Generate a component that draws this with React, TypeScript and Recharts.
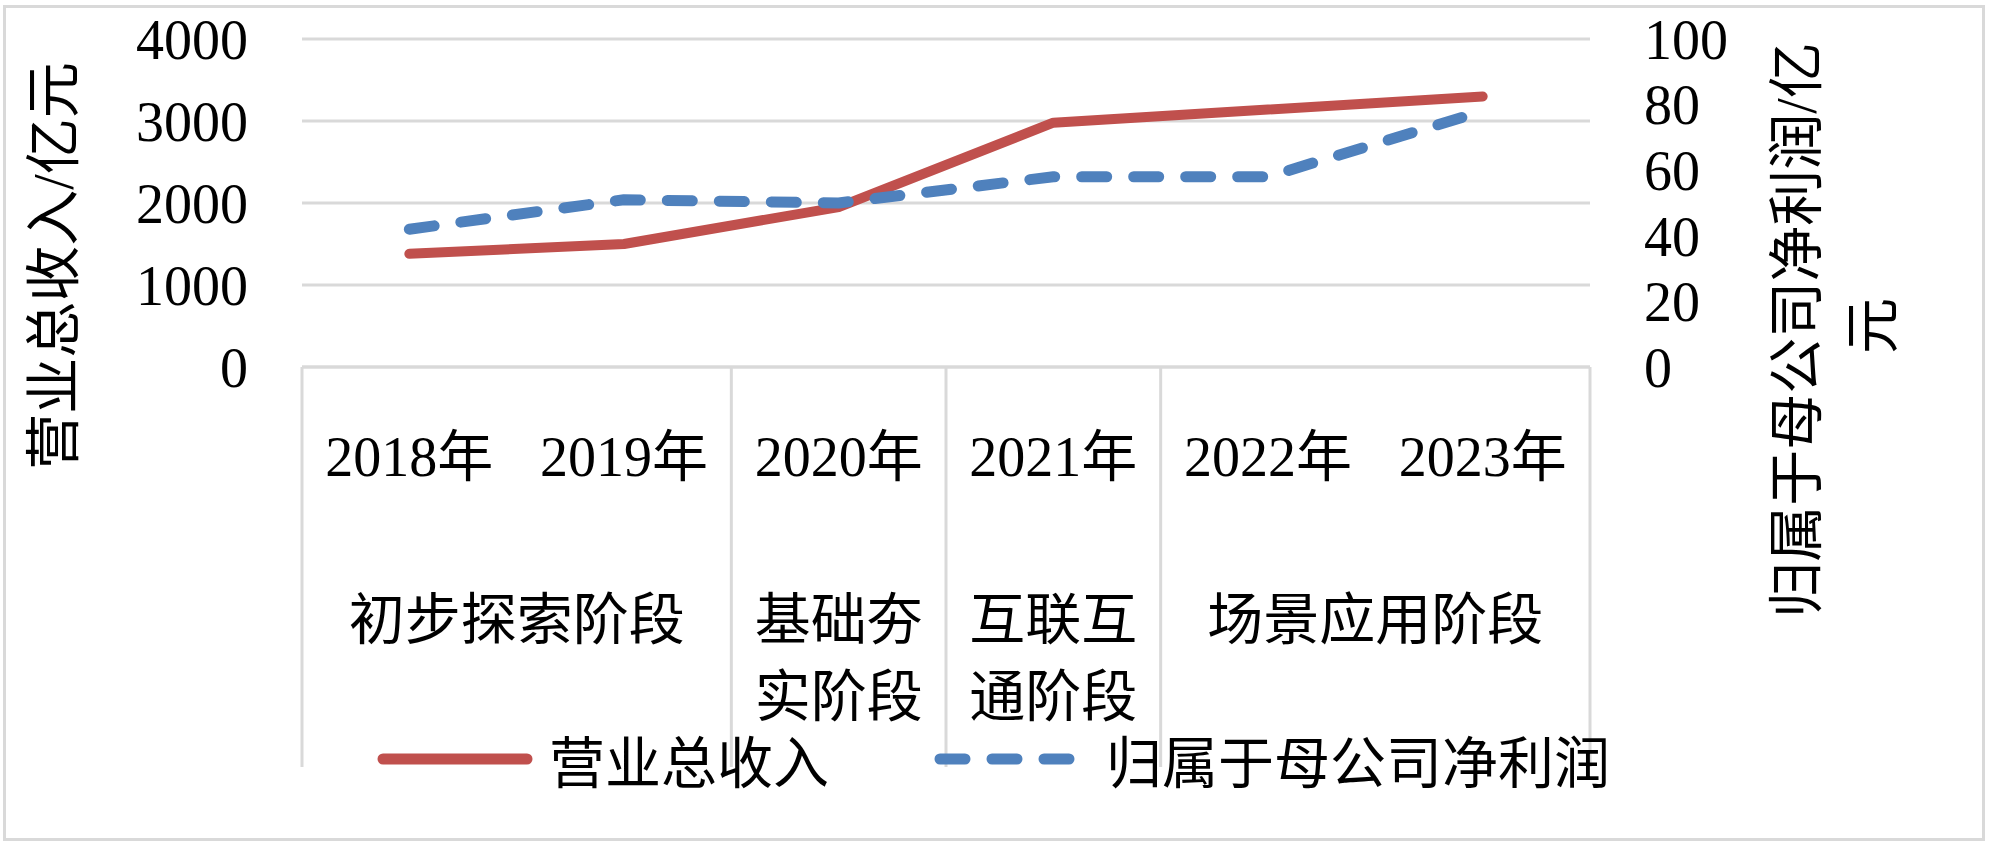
import { LineChart, Line, XAxis, YAxis, CartesianGrid, Legend } from 'recharts'

const years = ['2018年', '2019年', '2020年', '2021年', '2022年', '2023年']
const revenue = [1380, 1500, 1950, 2980, 3140, 3300]
const profit = [42, 51, 50, 58, 58, 78]
const stageLines = [['初步探索阶段'], ['基础夯', '实阶段'], ['互联互', '通阶段'], ['场景应用阶段']]
const stageSpans = [2, 1, 1, 2]
const leftTicks = [0, 1000, 2000, 3000, 4000]
const rightTicks = [0, 20, 40, 60, 80, 100]
const seriesNames = ['营业总收入', '归属于母公司净利润']

const data = years.map((year, i) => ({ year, revenue: revenue[i], profit: profit[i] }))

const FONT = '"Liberation Serif", "Noto Sans CJK SC", serif'
const GRID = '#d9d9d9'
const RED = '#c0504d'
const BLUE = '#4f81bd'

// plot box: x 302..1590, y 39..367
const STEP = (1590 - 302) / years.length

const stageStarts = stageSpans.map((_, i) => stageSpans.slice(0, i).reduce((a, b) => a + b, 0))

function CategoryTick(props: any) {
  const { x, y, payload, index } = props
  const si = stageStarts.indexOf(index)
  const parts: any[] = []
  parts.push(
    <text key="yr" x={x} y={y + 90} textAnchor="middle" dominantBaseline="central" fontSize={56} fontFamily={FONT} fill="#000">
      {payload.value}
    </text>
  )
  if (si >= 0) {
    parts.push(<line key="sep" x1={x - STEP / 2} x2={x - STEP / 2} y1={y} y2={y + 400} stroke={GRID} strokeWidth={3} />)
    const cx = x + ((stageSpans[si] - 1) * STEP) / 2
    stageLines[si].forEach((ln, k) => {
      parts.push(
        <text key={'st' + k} x={cx} y={y + 253 + k * 77} textAnchor="middle" dominantBaseline="central" fontSize={56} fontFamily={FONT} fill="#000">
          {ln}
        </text>
      )
    })
  }
  if (index === years.length - 1) {
    parts.push(<line key="end" x1={x + STEP / 2} x2={x + STEP / 2} y1={y} y2={y + 400} stroke={GRID} strokeWidth={3} />)
  }
  return <g>{parts}</g>
}

function renderLegend(props: any) {
  const items = [...props.payload].sort((a: any, b: any) => seriesNames.indexOf(a.value) - seriesNames.indexOf(b.value))
  return (
    <div style={{ display: 'flex', alignItems: 'center', fontFamily: FONT, fontSize: 56, whiteSpace: 'nowrap' }}>
      {items.map((entry: any, i: number) => (
        <div key={entry.value} style={{ display: 'flex', alignItems: 'center', marginLeft: i === 0 ? 0 : 105 }}>
          <svg width={156} height={14} style={{ marginRight: 16 }}>
            <line
              x1={6}
              x2={150}
              y1={7}
              y2={7}
              stroke={entry.color}
              strokeWidth={11}
              strokeLinecap="round"
              strokeDasharray={entry.payload?.strokeDasharray}
            />
          </svg>
          <span style={{ color: '#000' }}>{entry.value}</span>
        </div>
      ))}
    </div>
  )
}

export default function App() {
  return (
    <div style={{ position: 'absolute', left: 0, top: 0, width: 2000, height: 856, background: '#fff' }}>
      <div style={{ position: 'absolute', left: 3, top: 5, width: 1976, height: 830, border: `3px solid ${GRID}` }} />
      <LineChart width={2000} height={856} data={data} margin={{ top: 39, right: 350, bottom: 459, left: 242 }}>
        <CartesianGrid vertical={false} stroke={GRID} strokeWidth={3} yAxisId="left" />
        <XAxis
          dataKey="year"
          height={30}
          padding={{ left: STEP / 2, right: STEP / 2 }}
          axisLine={{ stroke: GRID, strokeWidth: 3 }}
          tickLine={false}
          tickSize={0}
          tickMargin={0}
          interval={0}
          tick={(p: any) => <CategoryTick {...p} />}
        />
        <YAxis
          yAxisId="left"
          width={60}
          domain={[0, 4000]}
          ticks={leftTicks}
          interval={0}
          axisLine={false}
          tickLine={false}
          tickSize={0}
          tickMargin={54}
          tick={{ fontSize: 56, fontFamily: FONT, fill: '#000' }}
          label={{
            content: () => (
              <text x={54} y={266} transform="rotate(-90 54 266)" textAnchor="middle" dominantBaseline="central" fontSize={56} fontFamily={FONT} fill="#000">
                营业总收入/亿元
              </text>
            ),
          }}
        />
        <YAxis
          yAxisId="right"
          orientation="right"
          width={60}
          domain={[0, 100]}
          ticks={rightTicks}
          interval={0}
          axisLine={false}
          tickLine={false}
          tickSize={0}
          tickMargin={54}
          tick={{ fontSize: 56, fontFamily: FONT, fill: '#000', textAnchor: 'start' }}
          label={{
            content: () => (
              <g>
                <text x={1797} y={330} transform="rotate(-90 1797 330)" textAnchor="middle" dominantBaseline="central" fontSize={56} fontFamily={FONT} fill="#000">
                  归属于母公司净利润/亿
                </text>
                <text x={1873} y={326} transform="rotate(-90 1873 326)" textAnchor="middle" dominantBaseline="central" fontSize={56} fontFamily={FONT} fill="#000">
                  元
                </text>
              </g>
            ),
          }}
        />
        <Legend
          verticalAlign="middle"
          content={renderLegend}
          wrapperStyle={{ position: 'absolute', top: 718, left: 377, width: 'auto', height: 'auto' }}
        />
        <Line
          yAxisId="left"
          name={seriesNames[0]}
          dataKey="revenue"
          stroke={RED}
          strokeWidth={10}
          strokeLinecap="round"
          strokeLinejoin="round"
          dot={false}
          activeDot={false}
          isAnimationActive={false}
        />
        <Line
          yAxisId="right"
          name={seriesNames[1]}
          dataKey="profit"
          stroke={BLUE}
          strokeWidth={11}
          strokeDasharray="25 27"
          strokeLinecap="round"
          strokeLinejoin="round"
          dot={false}
          activeDot={false}
          isAnimationActive={false}
        />
      </LineChart>
    </div>
  )
}
